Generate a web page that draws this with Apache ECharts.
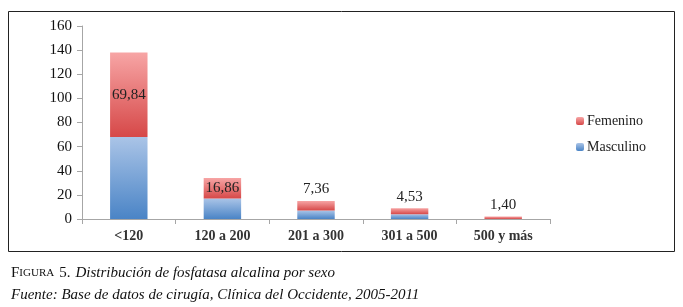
<!DOCTYPE html>
<html>
<head>
    <meta charset="utf-8" />
    <title>Distribución de fosfatasa alcalina por sexo</title>
    <script src="https://cdn.jsdelivr.net/npm/echarts@6/dist/echarts.min.js"></script>
    <style>
        body { margin: 0; background: #ffffff; }
    </style>
</head>
<body>
<div id="main" style="width: 683px;height:307px;"></div>

<script type="text/javascript">
    // 数据
    var categorias = ['<120', '120 a 200', '201 a 300', '301 a 500', '500 y más'];
    var masculino = [68, 17, 7, 4, 0];
    var femenino = [70, 17, 8, 5, 2];
    var porcentajes = ['69,84', '16,86', '7,36', '4,53', '1,40'];
    var yTicks = { min: 0, max: 160, interval: 20 };

    var serif = 'Liberation Serif';

    function grad(bottom, top) {
        return new echarts.graphic.LinearGradient(0, 1, 0, 0, [
            { offset: 0, color: bottom },
            { offset: 1, color: top }
        ]);
    }

    var myChart = echarts.init(document.getElementById('main'), null, { renderer: 'canvas' });

    var femData = femenino.map(function (v, i) {
        return {
            value: v,
            label: { position: i < 2 ? 'inside' : 'top', distance: 4 }
        };
    });

    var option = {
        backgroundColor: '#ffffff',
        animation: false,
        title: [{
            left: 6,
            top: 259,
            text: '{sc|F}{sm|IGURA} {sc|5.} {it|Distribución de fosfatasa alcalina por sexo}',
            textStyle: {
                fontWeight: 'normal',
                rich: {
                    sc: { fontFamily: serif, fontSize: 15, fontWeight: 'normal', color: '#111' },
                    sm: { fontFamily: serif, fontSize: 11, fontWeight: 'normal', color: '#111' },
                    it: { fontFamily: serif, fontSize: 15, fontWeight: 'normal', fontStyle: 'italic', color: '#111' }
                }
            }
        }, {
            left: 6,
            top: 283,
            text: 'Fuente: Base de datos de cirugía, Clínica del Occidente, 2005-2011',
            textStyle: { fontFamily: serif, fontSize: 15, fontStyle: 'italic', fontWeight: 'normal', color: '#111' }
        }],
        graphic: [{
            type: 'rect',
            shape: { x: 8.5, y: 11.5, width: 666, height: 240 },
            style: { fill: 'none', stroke: '#222', lineWidth: 1 },
            silent: true
        }],
        legend: {
            orient: 'vertical',
            left: 571,
            top: 109,
            itemWidth: 8,
            itemHeight: 8,
            itemGap: 12,
            data: ['Femenino', 'Masculino'],
            textStyle: { fontFamily: serif, fontSize: 14, color: '#222', padding: [0, 0, 0, -2] }
        },
        grid: {
            left: 82,
            right: 133,
            top: 26,
            bottom: 88,
            containLabel: false
        },
        xAxis: {
            type: 'category',
            data: categorias,
            axisLine: { lineStyle: { color: '#a6a6a6' } },
            axisTick: { show: true, length: 5, lineStyle: { color: '#a6a6a6' } },
            axisLabel: { fontFamily: serif, fontSize: 14, fontWeight: 'bold', color: '#333', margin: 10 }
        },
        yAxis: {
            type: 'value',
            min: yTicks.min,
            max: yTicks.max,
            interval: yTicks.interval,
            axisLine: { show: true, lineStyle: { color: '#a6a6a6' } },
            axisTick: { show: true, length: 5, lineStyle: { color: '#a6a6a6' } },
            splitLine: { show: false },
            axisLabel: { fontFamily: serif, fontSize: 15, color: '#111', margin: 10 }
        },
        series: [{
            name: 'Masculino',
            type: 'bar',
            stack: 'total',
            barWidth: '40%',
            data: masculino,
            itemStyle: { color: grad('#4a84c6', '#aac4e7') }
        }, {
            name: 'Femenino',
            type: 'bar',
            stack: 'total',
            data: femData,
            itemStyle: { color: grad('#d64848', '#f7a5a5') },
            label: {
                show: true,
                fontFamily: serif,
                fontSize: 15,
                color: '#222',
                formatter: function (p) { return porcentajes[p.dataIndex]; }
            }
        }]
    };
    myChart.setOption(option);
</script>
</body>
</html>
